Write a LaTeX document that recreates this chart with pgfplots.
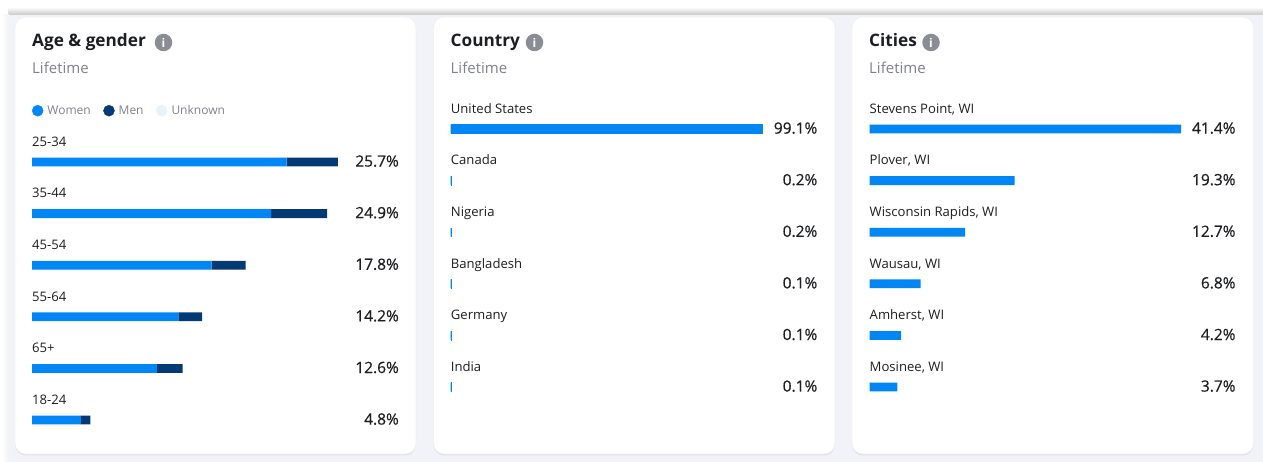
\documentclass[border=0pt]{standalone}
\usepackage{fontspec}
\setmainfont{Open Sans}
\newfontfamily\pctfont[FakeBold=0.5]{Open Sans}
\usepackage{pgfplots}
\pgfplotsset{compat=1.18}
\definecolor{bgc}{HTML}{F1F3F8}
\definecolor{women}{HTML}{0086F5}
\definecolor{men}{HTML}{033A74}
\definecolor{unk}{HTML}{E8F2FD}
\definecolor{sub}{HTML}{7F8288}
\definecolor{ink}{HTML}{1C1E21}
\definecolor{icon}{HTML}{8A8D93}
\newcommand{\fs}[1]{\fontsize{#1bp}{#1bp}\selectfont}
\pgfplotsset{panel/.style={
  scale only axis, hide axis, clip=false,
  ymin=-0.5, ymax=5.5, height=309.6bp, anchor=south west,
},
  barpanel/.style={panel, xbar stacked, bar width=8.8bp},
  catlab/.style={forget plot, draw=none, mark=none,
    nodes near coords, point meta=explicit symbolic,
    every node near coord/.append style={anchor=base west, inner sep=0pt, text=ink, font=\fs{13.1}, yshift=15.7bp}},
  pctlab/.style={forget plot, draw=none, mark=none,
    nodes near coords, point meta=explicit symbolic,
    every node near coord/.append style={anchor=base east, inner sep=0pt, text=ink, font=\pctfont\fs{15.5}, yshift=-4.6bp}}
}
\newcommand{\card}[4]{% x0, title, icon x, x1
  \fill[black!12, rounded corners=11bp] (#1,18) rectangle (#4,455.5);
  \draw[draw=black!5, line width=0.6bp, fill=white, rounded corners=11bp] (#1,17) rectangle (#4,454);
  \node[anchor=base west, inner sep=0pt, text=ink, font=\fs{17.2}\bfseries] at (#1+17,47) {#2};
  \node[circle, fill=icon, inner sep=0pt, minimum size=17.5bp, text=white, font=\fs{12}\bfseries] at (#3,42.5) {i};
  \node[anchor=base west, inner sep=0pt, text=sub, font=\fs{15}] at (#1+17,73.5) {Lifetime};
}
\begin{document}
\begin{tikzpicture}[x=1bp,y=-1bp]
\fill[white] (0,0) rectangle (1263,462);
\shade[top color=white, bottom color=black!22] (8,7) rectangle (1263,15);
\shade[left color=white, right color=black!5] (1,15) rectangle (9,462);
\fill[bgc] (9,15) rectangle (1263,462);
\card{15}{Age \& gender}{163.5}{416}
\card{433.5}{Country}{534.5}{835}
\card{852}{Cities}{931}{1253.5}
% panel 1 (x px 32..399)
\begin{axis}[barpanel, at={(32bp,-445.8bp)}, width=367bp, xmin=0, xmax=30.84,
  legend image code/.code={\fill[#1] (5.5bp,0bp) circle[radius=5.5bp];},
  legend style={at={(0,1)}, anchor=west, yshift=25.5bp, draw=none, fill=none,
    inner sep=0pt, outer sep=0pt, legend columns=3, font=\fs{12}, text=sub,
    nodes={inner sep=0pt},
    /tikz/every odd column/.append style={column sep=4bp},
    /tikz/every even column/.append style={column sep=12.5bp}},
  legend cell align=left]
\addplot[draw=none, fill=women, forget plot] coordinates {(21.4,5) (20.1,4) (15.1,3) (12.3,2) (10.5,1) (4.1,0)};
\addplot[draw=none, fill=men, forget plot] coordinates {(4.3,5) (4.7,4) (2.85,3) (2.0,2) (2.15,1) (0.8,0)};
\addlegendimage{women}
\addlegendentry{Women}
\addlegendimage{men}
\addlegendentry{Men}
\addlegendimage{unk}
\addlegendentry{Unknown}
\end{axis}
\begin{axis}[panel, at={(32bp,-445.8bp)}, width=367bp, xmin=0, xmax=30.84]
\addplot[catlab] table[x=x, y=y, meta=m, row sep=\\] {x y m\\0 5 25-34\\0 4 35-44\\0 3 45-54\\0 2 55-64\\0 1 65+\\0 0 18-24\\};
\addplot[pctlab] table[x=x, y=y, meta=m, row sep=\\] {x y m\\30.84 5 25.7\%\\30.84 4 24.9\%\\30.84 3 17.8\%\\30.84 2 14.2\%\\30.84 1 12.6\%\\30.84 0 4.8\%\\};
\end{axis}
% panel 2 (x px 450.7..817.5)
\begin{axis}[barpanel, at={(450.7bp,-412.8bp)}, width=366.8bp, xmin=0, xmax=116.6]
\addplot[draw=women, line width=0.3bp, fill=women] coordinates {(99.1,5) (0.2,4) (0.2,3) (0.1,2) (0.1,1) (0.1,0)};
\end{axis}
\begin{axis}[panel, at={(450.7bp,-412.8bp)}, width=366.8bp, xmin=0, xmax=116.6]
\addplot[catlab] table[x=x, y=y, meta=m, row sep=\\] {x y m\\0 5 {United States}\\0 4 Canada\\0 3 Nigeria\\0 2 Bangladesh\\0 1 Germany\\0 0 India\\};
\addplot[pctlab] table[x=x, y=y, meta=m, row sep=\\] {x y m\\116.6 5 99.1\%\\116.6 4 0.2\%\\116.6 3 0.2\%\\116.6 2 0.1\%\\116.6 1 0.1\%\\116.6 0 0.1\%\\};
\end{axis}
% panel 3 (x px 869.5..1235.7)
\begin{axis}[barpanel, at={(869.5bp,-412.8bp)}, width=366.2bp, xmin=0, xmax=48.67]
\addplot[draw=none, fill=women] coordinates {(41.4,5) (19.3,4) (12.7,3) (6.8,2) (4.2,1) (3.7,0)};
\end{axis}
\begin{axis}[panel, at={(869.5bp,-412.8bp)}, width=366.2bp, xmin=0, xmax=48.67]
\addplot[catlab] table[x=x, y=y, meta=m, row sep=\\] {x y m\\0 5 {Stevens Point, WI}\\0 4 {Plover, WI}\\0 3 {Wisconsin Rapids, WI}\\0 2 {Wausau, WI}\\0 1 {Amherst, WI}\\0 0 {Mosinee, WI}\\};
\addplot[pctlab] table[x=x, y=y, meta=m, row sep=\\] {x y m\\48.67 5 41.4\%\\48.67 4 19.3\%\\48.67 3 12.7\%\\48.67 2 6.8\%\\48.67 1 4.2\%\\48.67 0 3.7\%\\};
\end{axis}
\end{tikzpicture}
\end{document}
